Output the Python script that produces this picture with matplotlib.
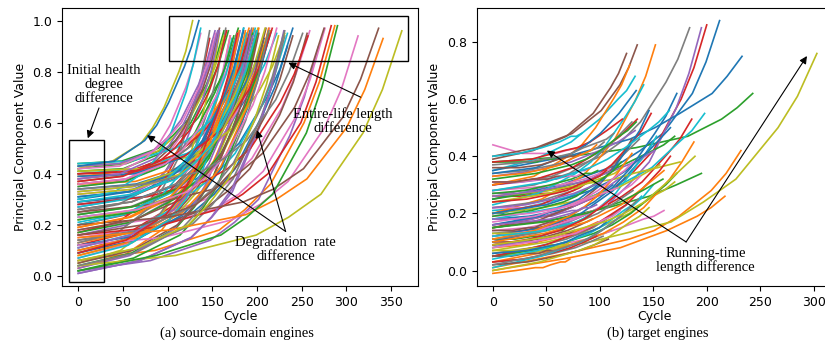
import numpy as np
import matplotlib.pyplot as plt
from matplotlib.patches import Rectangle

# fractions of each engine's own run length where the values were taken
fracs = [0, 0.3, 0.55, 0.65, 0.75, 0.88, 0.94, 1.0]

# source-domain engines: run length, then value at each fraction
src_life = [192, 287, 179, 189, 269, 188, 259, 150, 201, 222,
            240, 170, 163, 180, 207, 200, 276, 195, 158, 234,
            195, 202, 168, 147, 230, 199, 156, 165, 163, 194,
            234, 191, 200, 195, 181, 158, 170, 194, 128, 188,
            216, 196, 207, 192, 158, 256, 214, 231, 215, 198,
            213, 213, 195, 257, 193, 275, 137, 147, 231, 172,
            185, 180, 174, 283, 153, 202, 313, 199, 362, 137,
            208, 213, 213, 166, 229, 210, 154, 231, 199, 185,
            185, 341, 200, 217, 195, 336, 178, 213, 209, 176,
            135, 187, 290, 178, 156, 240, 222, 251, 224, 200]
src_vals = [
    [.30, .33, .40, .45, .53, .70, .81, .96], [.06, .10, .18, .26, .36, .60, .76, .98],
    [.42, .44, .50, .55, .62, .76, .85, .97], [.12, .17, .27, .35, .45, .66, .78, .95],
    [.02, .06, .14, .21, .30, .55, .70, .90], [.36, .38, .45, .50, .57, .72, .81, .93],
    [.18, .22, .30, .37, .46, .66, .79, .96], [.25, .28, .35, .41, .50, .68, .78, .92],
    [.08, .13, .24, .32, .42, .64, .78, .97], [.40, .42, .48, .53, .60, .74, .83, .95],
    [.28, .31, .38, .44, .52, .70, .81, .97], [.03, .08, .18, .26, .38, .62, .75, .94],
    [.44, .45, .50, .55, .61, .75, .84, .96], [.20, .24, .32, .39, .48, .67, .79, .95],
    [.33, .35, .41, .47, .55, .71, .79, .90], [.10, .15, .25, .33, .43, .64, .76, .93],
    [.15, .19, .26, .32, .41, .62, .77, .97], [.38, .40, .46, .51, .58, .73, .83, .96],
    [.05, .10, .21, .29, .40, .63, .76, .95], [.23, .26, .33, .39, .48, .67, .79, .95],
    [.31, .33, .40, .45, .53, .70, .80, .94], [.13, .17, .27, .35, .45, .66, .79, .97],
    [.41, .42, .48, .53, .60, .75, .84, .96], [.17, .21, .30, .37, .47, .67, .78, .93],
    [.01, .06, .15, .23, .33, .58, .74, .96], [.26, .29, .36, .42, .50, .69, .80, .95],
    [.35, .37, .43, .48, .56, .72, .82, .95], [.09, .14, .24, .32, .43, .65, .78, .97],
    [.43, .44, .49, .54, .60, .74, .82, .94], [.21, .25, .33, .39, .48, .67, .79, .96],
    [.12, .16, .25, .32, .42, .63, .74, .90], [.39, .41, .47, .52, .59, .74, .84, .97],
    [.04, .09, .19, .27, .38, .61, .75, .95], [.29, .31, .38, .44, .52, .70, .80, .93],
    [.16, .20, .29, .36, .46, .66, .79, .96], [.37, .39, .45, .50, .58, .73, .83, .97],
    [.07, .12, .22, .30, .41, .64, .77, .94], [.24, .27, .34, .40, .49, .68, .80, .97],
    [.42, .45, .52, .58, .66, .80, .88, 1.00], [.11, .16, .26, .34, .44, .65, .78, .95],
    [.34, .36, .42, .47, .55, .71, .81, .96], [.19, .23, .31, .38, .47, .67, .80, .97],
    [.02, .07, .16, .24, .35, .59, .73, .92], [.40, .41, .47, .52, .58, .73, .82, .95],
    [.27, .30, .37, .43, .51, .69, .80, .96], [.14, .18, .26, .33, .42, .63, .76, .95],
    [.32, .34, .40, .46, .54, .71, .82, .97], [.06, .11, .20, .28, .38, .61, .75, .94],
    [.22, .26, .33, .39, .48, .67, .79, .96], [.44, .45, .50, .55, .61, .75, .84, .97],
    [.09, .14, .24, .32, .42, .64, .76, .93], [.36, .37, .43, .48, .56, .72, .82, .96],
    [.17, .21, .30, .37, .46, .66, .78, .95], [.28, .31, .37, .42, .50, .68, .79, .94],
    [.03, .08, .18, .26, .37, .61, .76, .96], [.25, .28, .34, .40, .48, .66, .79, .97],
    [.38, .40, .46, .51, .59, .74, .83, .95], [.13, .17, .27, .35, .45, .66, .79, .96],
    [.41, .42, .47, .52, .58, .73, .82, .95], [.20, .24, .32, .39, .48, .67, .78, .93],
    [.31, .33, .40, .45, .53, .70, .81, .97], [.08, .13, .23, .31, .42, .64, .77, .96],
    [.35, .37, .43, .48, .56, .72, .81, .94], [.16, .19, .26, .32, .40, .60, .76, .98],
    [.43, .44, .49, .54, .61, .75, .84, .96], [.05, .10, .20, .28, .39, .62, .76, .95],
    [.12, .15, .22, .28, .37, .58, .73, .94], [.26, .29, .36, .42, .50, .69, .80, .96],
    [.04, .08, .16, .23, .32, .56, .73, .96], [.30, .33, .41, .47, .55, .72, .83, .97],
    [.39, .40, .46, .51, .58, .73, .81, .93], [.10, .15, .25, .33, .43, .65, .78, .97],
    [.22, .25, .33, .39, .48, .67, .79, .95], [.37, .39, .45, .50, .57, .72, .82, .96],
    [.01, .06, .15, .23, .34, .58, .73, .94], [.18, .22, .30, .37, .46, .66, .79, .97],
    [.42, .43, .49, .54, .60, .74, .83, .95], [.14, .18, .27, .34, .44, .65, .78, .96],
    [.33, .35, .41, .46, .54, .71, .81, .94], [.07, .12, .22, .30, .41, .64, .78, .97],
    [.29, .31, .38, .44, .52, .70, .81, .96], [.15, .18, .24, .30, .38, .58, .73, .93],
    [.24, .27, .34, .40, .49, .68, .79, .95], [.40, .41, .47, .52, .58, .73, .83, .97],
    [.11, .16, .26, .34, .44, .65, .77, .94], [.20, .23, .29, .34, .42, .62, .77, .97],
    [.36, .38, .44, .49, .57, .72, .82, .95], [.04, .09, .19, .27, .38, .61, .76, .96],
    [.32, .34, .40, .46, .54, .71, .82, .97], [.27, .30, .37, .43, .51, .69, .79, .93],
    [.43, .45, .53, .59, .68, .82, .90, 1.00], [.19, .23, .31, .38, .47, .67, .79, .96],
    [.02, .08, .16, .23, .32, .56, .74, .98], [.09, .14, .24, .32, .43, .65, .78, .95],
    [.38, .40, .46, .51, .59, .74, .83, .96], [.16, .20, .28, .35, .44, .64, .77, .94],
    [.23, .26, .33, .39, .48, .67, .80, .97], [.34, .36, .41, .46, .53, .69, .80, .95],
    [.06, .11, .20, .28, .38, .61, .75, .94], [.29, .32, .38, .44, .52, .70, .81, .96]]

# target engines (truncated runs): run length, then value at each fraction
tgt_life = [112, 98, 69, 82, 91, 93, 91, 95, 111, 96,
            212, 232, 243, 200, 195, 135, 160, 184, 303, 133,
            233, 152, 195, 186, 48, 125, 107, 137, 170, 198,
            150, 217, 170, 135, 121, 76, 54, 103, 175, 153,
            31, 188, 172, 148, 133, 60, 114, 125, 156, 141,
            172, 128, 63, 166, 84, 130, 138, 104, 72, 83,
            146, 72, 98, 97, 151, 57, 117, 130, 92, 150,
            166, 160, 159, 121, 44, 108, 83, 131, 121, 139,
            134, 130, 120, 106, 97, 82, 119, 113, 146, 89,
            106, 97, 134, 114, 101, 68, 131, 136, 189, 165]
tgt_vals = [
    [.18, .19, .21, .22, .24, .27, .28, .30], [.08, .09, .11, .12, .13, .15, .16, .17],
    [.11, .11, .12, .12, .13, .14, .14, .15], [.26, .26, .27, .27, .28, .29, .29, .30],
    [.30, .31, .32, .32, .33, .35, .35, .36], [.09, .10, .12, .13, .14, .16, .17, .18],
    [.44, .41, .41, .41, .42, .43, .44, .45], [.13, .14, .15, .16, .17, .19, .20, .21],
    [.05, .06, .08, .09, .10, .12, .13, .14], [.21, .22, .24, .25, .26, .28, .29, .30],
    [.25, .30, .37, .42, .48, .62, .73, .875], [.01, .06, .11, .14, .19, .28, .34, .42],
    [.38, .40, .43, .45, .47, .53, .57, .62], [.15, .20, .28, .34, .42, .60, .71, .86],
    [.10, .15, .23, .30, .38, .57, .69, .85], [.40, .43, .48, .52, .56, .65, .71, .79],
    [.05, .08, .11, .13, .15, .18, .19, .21], [.30, .33, .40, .45, .52, .66, .74, .85],
    [.05, .10, .17, .24, .32, .50, .61, .76], [.35, .39, .45, .49, .53, .60, .63, .68],
    [.35, .40, .46, .50, .55, .62, .68, .75], [.20, .25, .33, .39, .46, .60, .68, .79],
    [.15, .18, .22, .24, .26, .30, .32, .34], [.12, .16, .22, .26, .31, .41, .46, .53],
    [.27, .27, .28, .28, .28, .29, .29, .29], [.39, .42, .47, .51, .55, .64, .69, .76],
    [.14, .15, .17, .18, .19, .21, .22, .23], [.22, .24, .28, .31, .34, .40, .43, .46],
    [.07, .10, .14, .17, .20, .26, .28, .31], [.18, .22, .28, .32, .36, .45, .49, .55],
    [.12, .15, .20, .24, .28, .36, .40, .45], [.00, .04, .08, .11, .14, .19, .22, .26],
    [.25, .28, .32, .35, .38, .42, .44, .47], [.30, .32, .36, .39, .42, .47, .50, .53],
    [.16, .18, .21, .23, .25, .29, .31, .33], [.10, .10, .11, .11, .12, .13, .13, .14],
    [.22, .22, .22, .22, .23, .23, .23, .24], [.03, .04, .06, .07, .08, .10, .11, .12],
    [.26, .28, .31, .32, .34, .36, .37, .38], [.08, .12, .18, .22, .27, .37, .41, .47],
    [.20, .20, .21, .21, .21, .21, .21, .22], [.03, .07, .13, .17, .22, .32, .38, .45],
    [.05, .08, .13, .16, .20, .27, .30, .34], [.20, .23, .29, .33, .37, .45, .49, .55],
    [.33, .35, .38, .40, .42, .45, .47, .49], [.14, .14, .15, .15, .16, .17, .17, .17],
    [.28, .29, .30, .31, .32, .34, .35, .36], [.06, .08, .11, .13, .15, .19, .21, .23],
    [.20, .22, .25, .27, .29, .33, .35, .37], [.23, .27, .34, .38, .44, .54, .59, .65],
    [.10, .15, .24, .29, .36, .48, .54, .62], [.30, .33, .40, .44, .50, .60, .65, .72],
    [.38, .38, .38, .38, .39, .39, .39, .40], [.05, .09, .15, .19, .23, .31, .35, .40],
    [.18, .18, .19, .19, .20, .21, .21, .22], [.15, .17, .22, .25, .29, .37, .41, .46],
    [.12, .14, .18, .20, .23, .28, .30, .33], [.34, .35, .37, .38, .40, .42, .43, .45],
    [.07, .07, .08, .08, .09, .09, .09, .10], [.40, .41, .43, .44, .45, .47, .47, .48],
    [.16, .19, .25, .29, .34, .44, .49, .56], [-.01, .00, .01, .01, .02, .03, .03, .04],
    [.27, .28, .30, .31, .32, .34, .34, .35], [.03, .04, .06, .07, .08, .10, .11, .12],
    [.26, .28, .31, .33, .35, .38, .40, .42], [.05, .05, .06, .06, .06, .07, .07, .07],
    [.19, .20, .22, .23, .25, .27, .28, .29], [.28, .30, .34, .37, .40, .46, .49, .52],
    [.13, .13, .14, .15, .16, .17, .18, .19], [.01, .05, .10, .13, .17, .23, .26, .30],
    [.20, .23, .28, .31, .35, .42, .46, .50], [.10, .13, .17, .20, .23, .29, .32, .35],
    [.15, .17, .20, .22, .24, .28, .30, .32], [.38, .39, .42, .43, .45, .49, .51, .53],
    [.09, .09, .10, .10, .10, .10, .10, .11], [.02, .03, .05, .06, .07, .09, .10, .11],
    [.31, .31, .32, .32, .33, .33, .33, .34], [.11, .13, .16, .18, .20, .24, .26, .28],
    [.24, .26, .28, .29, .31, .33, .34, .36], [.04, .07, .11, .13, .16, .21, .23, .26],
    [.34, .36, .41, .44, .48, .55, .59, .63], [.11, .14, .19, .22, .26, .33, .37, .41],
    [.19, .21, .24, .26, .29, .33, .35, .38], [.24, .25, .27, .28, .30, .32, .33, .35],
    [.16, .17, .18, .19, .20, .22, .22, .23], [.36, .36, .37, .38, .39, .40, .40, .41],
    [.08, .10, .12, .13, .15, .18, .19, .21], [.37, .38, .40, .41, .43, .45, .46, .48],
    [.00, .03, .07, .09, .12, .17, .19, .22], [.12, .13, .14, .15, .16, .17, .18, .19],
    [.06, .07, .09, .10, .12, .14, .15, .17], [.33, .34, .36, .37, .39, .41, .42, .44],
    [.32, .34, .37, .39, .42, .47, .49, .52], [.09, .11, .14, .16, .18, .22, .24, .26],
    [.22, .23, .25, .26, .27, .29, .30, .31], [.31, .31, .32, .32, .32, .33, .33, .33],
    [.17, .19, .23, .25, .28, .33, .35, .38], [.02, .05, .09, .11, .14, .19, .22, .25],
    [.09, .12, .17, .20, .24, .32, .36, .40], [.28, .31, .36, .39, .43, .49, .52, .56]]

serif = ['Liberation Serif', 'DejaVu Serif']
arrow = dict(arrowstyle='-|>', color='k', lw=0.8, mutation_scale=11, shrinkA=0, shrinkB=0)

fig = plt.figure(figsize=(8.25, 3.47), dpi=100)
ax1 = fig.add_axes([0.0752, 0.1758, 0.4315, 0.8012])
ax2 = fig.add_axes([0.5778, 0.1758, 0.4320, 0.8012])

for life, vals in zip(src_life, src_vals):
    ax1.plot(np.array(fracs) * life, vals, lw=1.2)
for life, vals in zip(tgt_life, tgt_vals):
    ax2.plot(np.array(fracs) * life, vals, lw=1.2)

for ax in (ax1, ax2):
    ax.set_xlabel('Cycle', fontsize=9, labelpad=1)
    ax.set_ylabel('Principal Component Value', fontsize=9)
    ax.tick_params(labelsize=9)

ax1.set_xticks([0, 50, 100, 150, 200, 250, 300, 350])
ax1.set_yticks([0.0, 0.2, 0.4, 0.6, 0.8, 1.0])
ax2.set_xticks([0, 50, 100, 150, 200, 250, 300])
ax2.set_yticks([0.0, 0.2, 0.4, 0.6, 0.8])

# boxes around the start region and the end-of-life region
ax1.add_patch(Rectangle((-10, -0.024), 39, 0.555, fill=False, ec='k', lw=1.0, zorder=5))
ax1.add_patch(Rectangle((101, 0.840), 268, 0.177, fill=False, ec='k', lw=1.0, zorder=5))

ax1.annotate('Initial health\ndegree\ndifference', xy=(10.7, 0.539), xytext=(28.5, 0.749),
             ha='center', va='center', fontsize=10.5, family=serif, linespacing=1.1,
             arrowprops=dict(arrow, relpos=(0.45, 0.0)))
ax1.text(296, 0.607, 'Entire-life length\ndifference', ha='center', va='center',
         fontsize=10.5, family=serif, linespacing=1.1)
ax1.annotate('', xy=(235, 0.835), xytext=(316, 0.70), arrowprops=arrow)
ax1.text(232, 0.103, 'Degradation  rate\ndifference', ha='center', va='center',
         fontsize=10.5, family=serif, linespacing=1.1)
ax1.annotate('', xy=(77, 0.551), xytext=(232, 0.174), arrowprops=arrow)
ax1.annotate('', xy=(200, 0.571), xytext=(232, 0.174), arrowprops=arrow)

ax2.text(199, 0.035, 'Running-time\nlength difference', ha='center', va='center',
         fontsize=10.5, family=serif, linespacing=1.1)
ax2.annotate('', xy=(50.5, 0.42), xytext=(180.7, 0.10), arrowprops=arrow)
ax2.annotate('', xy=(293.7, 0.751), xytext=(180.7, 0.10), arrowprops=arrow)

fig.text(237 / 825, 1 - 333 / 347, '(a) source-domain engines', ha='center', va='center',
         fontsize=10.5, family=serif)
fig.text(658 / 825, 1 - 333 / 347, '(b) target engines', ha='center', va='center',
         fontsize=10.5, family=serif)

fig.savefig('out.png', dpi=100)
